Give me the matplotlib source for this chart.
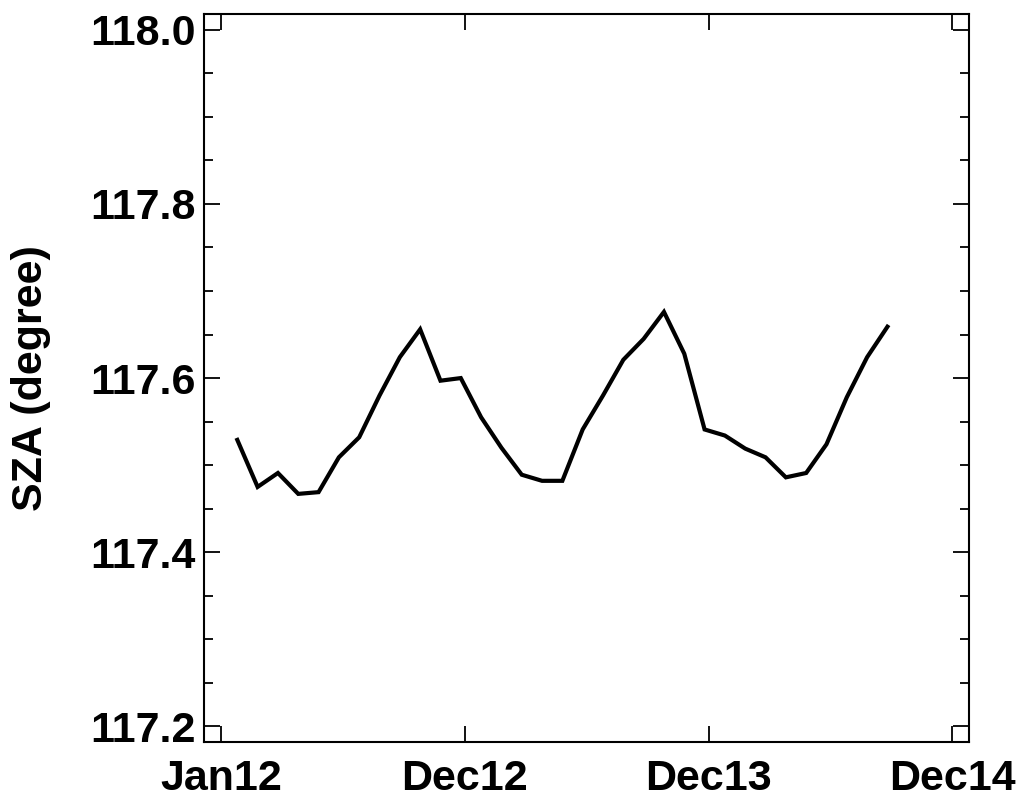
import matplotlib
matplotlib.use("Agg")
import matplotlib.pyplot as plt
from matplotlib.ticker import MultipleLocator

# monthly SZA, Jan12 .. Sep14 (33 months)
month_idx = list(range(33))
sza = [117.529, 117.475, 117.491, 117.467, 117.469, 117.509, 117.532, 117.580,
       117.624, 117.656, 117.597, 117.600, 117.555, 117.520, 117.489, 117.482,
       117.482, 117.541, 117.580, 117.621, 117.645, 117.676, 117.628, 117.541,
       117.534, 117.519, 117.509, 117.486, 117.491, 117.524, 117.578, 117.624,
       117.659]

tick_pos = [-0.8, 11.2, 23.2, 35.2]
tick_labels = ["Jan12", "Dec12", "Dec13", "Dec14"]

plt.rcParams["font.family"] = ["Liberation Sans", "DejaVu Sans"]
plt.rcParams["font.weight"] = "bold"

fig = plt.figure(figsize=(10.24, 8.07), dpi=100)
ax = fig.add_axes([0.199, 0.0805, 0.747, 0.902])

ax.plot(month_idx, sza, color="black", lw=3, solid_joinstyle="miter")

ax.set_xlim(-1.65, 36.0)
ax.set_ylim(117.182, 118.018)
ax.set_xticks(tick_pos)
ax.set_xticklabels(tick_labels)
ax.yaxis.set_major_locator(MultipleLocator(0.2))
ax.yaxis.set_minor_locator(MultipleLocator(0.05))
ax.yaxis.set_major_formatter(matplotlib.ticker.FormatStrFormatter("%.1f"))

ax.tick_params(axis="both", which="major", direction="in", length=11.5, width=1.3,
               top=True, right=True, labelsize=31)
ax.tick_params(axis="y", which="minor", direction="in", length=6.5, width=1.3,
               left=True, right=True)
ax.tick_params(axis="x", which="major", pad=12)
ax.tick_params(axis="y", which="major", pad=6)
for lab in ax.get_xticklabels() + ax.get_yticklabels():
    lab.set_fontweight("bold")
for s in ax.spines.values():
    s.set_linewidth(1.5)

ax.set_ylabel("SZA (degree)", fontsize=31, fontweight="bold", labelpad=28)

fig.savefig("out.png", dpi=100)
